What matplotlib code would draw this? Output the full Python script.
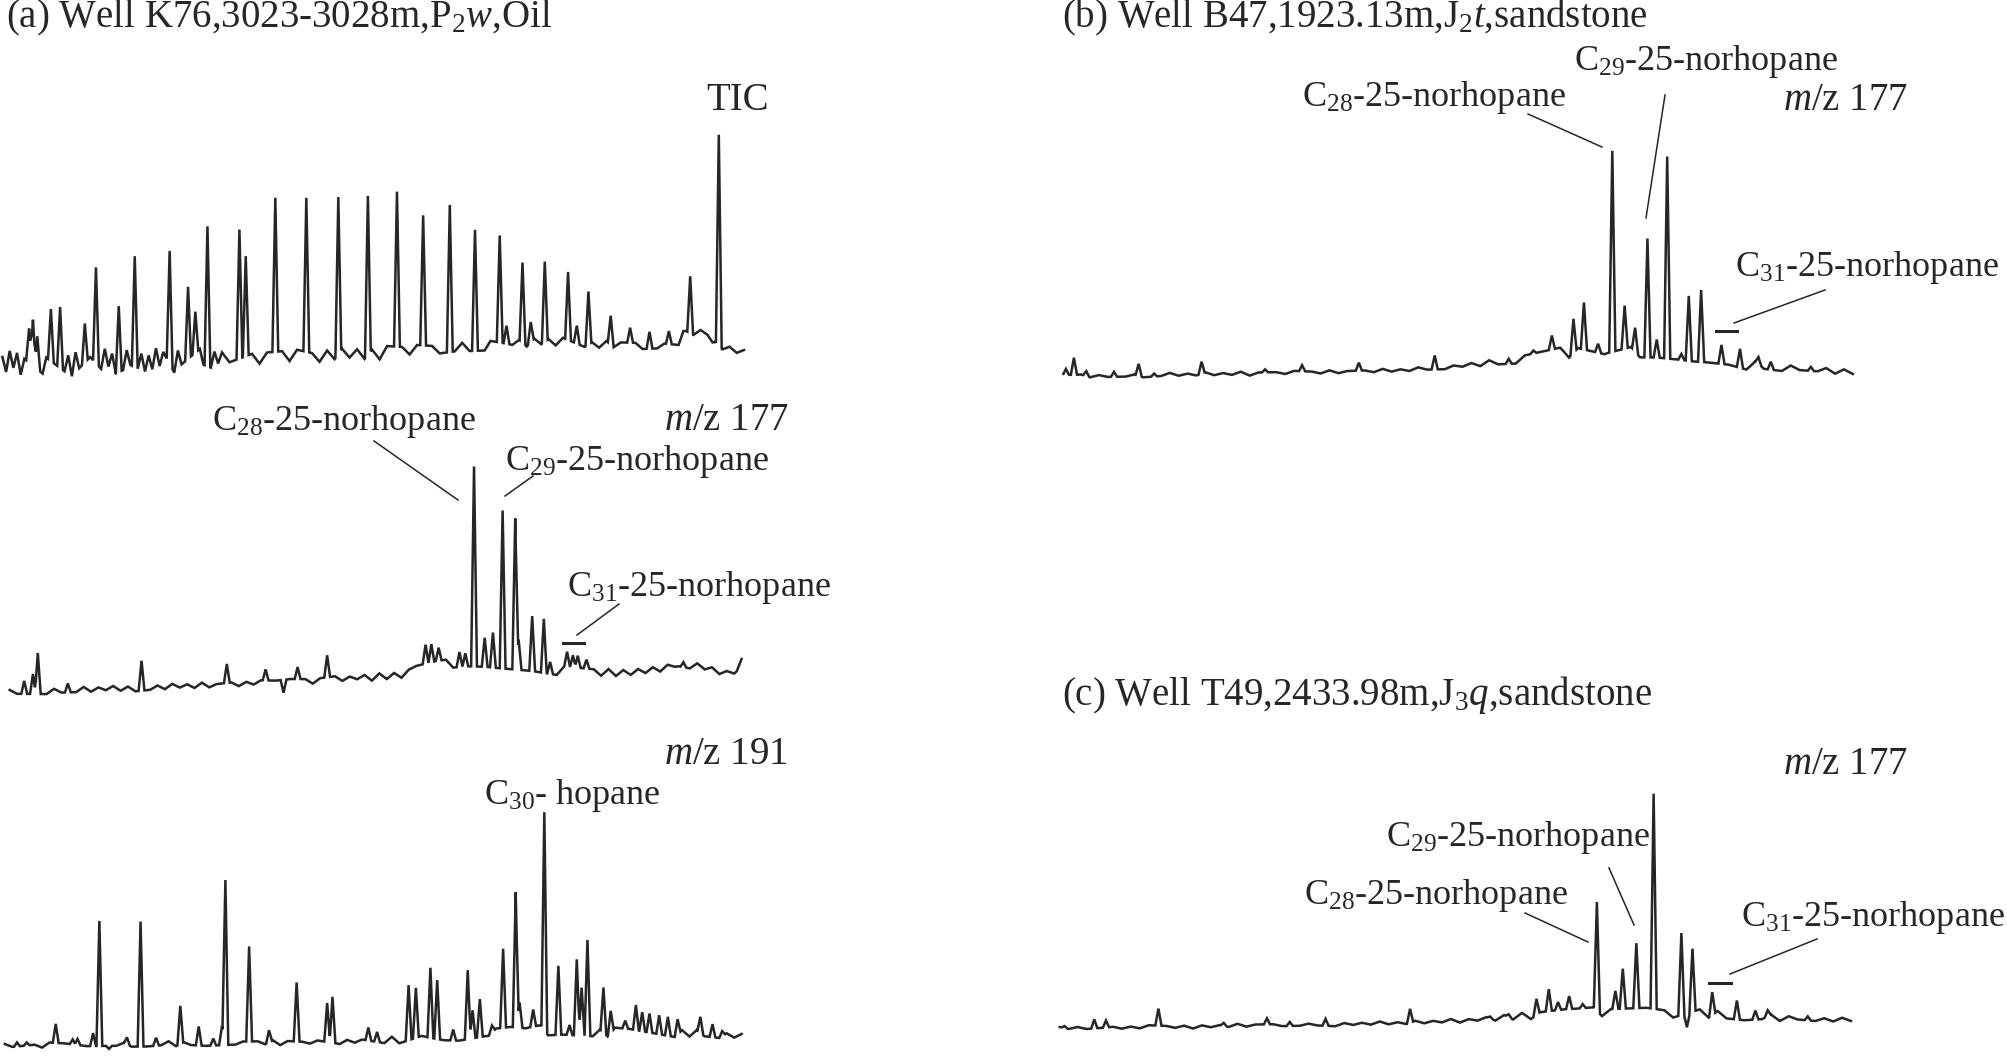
import numpy as np
import matplotlib
matplotlib.use('Agg')
import matplotlib.pyplot as plt
from matplotlib.lines import Line2D

plt.rcParams['font.family'] = 'Liberation Serif'
plt.rcParams['mathtext.fontset'] = 'custom'
plt.rcParams['mathtext.rm'] = 'Liberation Serif'
plt.rcParams['mathtext.it'] = 'Liberation Serif:italic'

W, H = 2007, 1058
INK = '#262626'
FS = 28      # titles, m/z, TIC
FS_PK = 26   # compound labels

# ---- (a) TIC, scan number vs abundance ----
tic_base_x = [5, 200, 400, 600, 800, 950, 1050, 1130, 1250, 1400, 1410, 1460, 1470, 1500, 1535]
tic_base_y = [17, 18, 21, 23, 27, 32, 37, 38, 35, 33, 47, 47, 37, 32, 27]
tic_pk_x = [60, 68, 77, 105, 124, 175, 198, 245, 278, 350, 388, 403, 428, 494, 507, 568, 632, 698, 759,
            819, 873, 928, 980, 1031, 1045, 1078, 1095, 1124, 1172, 1190, 1214, 1260, 1300, 1340, 1380, 1424, 1483]
tic_pk_h = [34, 46, 33, 52, 61, 39, 96, 66, 111, 113, 72, 41, 140, 129, 100, 154, 154, 157, 159,
            155, 130, 147, 121, 107, 18, 80, 20, 80, 68, 18, 53, 29, 15, 17, 13, 57, 211]
# noise given per stretch of scans: (first scan, last scan, values)
tic_noise = [
    (5, 450, [6, -9, 12, -5, 10, -12, 4, -8, 14, -6, 9, -11, 5, -13, 8, -4, 11, -9, 7, -14, 10, -6, 12, -8, 5, -10, 9, -7, 13, -5,
              8, -12, 6, -9, 11, -4, 10, -8, 7, -11, 5, -9, 12, -6, 8, -10, 6, -13, 9, -5, 11, -7, 4, -15, 10, -6, 8, -9, 7, -5]),
    (458, 1000, [6, -4, 7, -5, 4, -6, 5, -3, 6, -4, 7, -5, 3, -6, 5, -4, 6, -3, 5, -5, 4, -6, 7, -4, 5, -3, 6, -5, 4, -4, 6, -3, 5, -4, 3, -5]),
    (1012, 1535, [4, -3, 5, -2, 3, -4, 4, -2, 3, -3, 5, -2, 3, -3, 2, -3, 4, -2, 3, -2, 3, -3, 2, -2, 3, -2, 2,
                  2, -2, 3, -2, 2, -3, 2, -2, 3]),
]

# ---- (a) m/z 177 ----
a177_base_x = [20, 100, 300, 450, 600, 700, 800, 850, 900, 960, 1000, 1050, 1100, 1150, 1250, 1300, 1350, 1400, 1450, 1500, 1520, 1530]
a177_base_y = [18, 19, 22, 25, 28, 31, 33, 37, 43, 47, 47, 45, 43, 40, 37, 37, 40, 46, 43, 37, 39, 48]
a177_pk_x = [50, 68, 78, 140, 292, 468, 548, 614, 675, 878, 890, 905, 948, 960, 978, 1000, 1017, 1037, 1063, 1070,
             1098, 1122, 1135, 1170, 1182, 1192, 1210, 1410, 585]
a177_pk_h = [13, 20, 41, 9, 30, 19, 11, 12, 22, 19, 18, 13, 15, 13, 200, 29, 35, 158, 151, 30,
             55, 54, 12, 15, 12, 12, 9, 5, -13]
a177_noise = [(20, 1530, [2, -2, 3, -1, 2, -3, 2, -2, 1, -2, 3, -2, 2, -1, 3, -2, 2, -3, 1, -2, 2, -2, 3, -1, 2, -2, 3, -2, 1, -3,
                          2, -2, 2, -1, 3, -2, 2, -2, 3, -1, 2, -3, 2, -2, 3, -2, 2, -1, 3, -3, 4, -2, 3, -3, 4,
                          6, -4, 7, -5, 6, -3, 5, -6, 4, -5, 6, -4, 5, -3, 6, -4, 5, -4, 3, -5, 4, -3, 5, -4, 3, -3, 4, -3, 3, -2,
                          3, -2, 3, -3, 2, -2, 4, -3, 3, -2, 2, -3, 2, -2, 3])]

# ---- (a) m/z 191 ----
a191_base_x = [10, 200, 400, 600, 800, 900, 1000, 1100, 1200, 1300, 1400, 1530]
a191_base_y = [12, 13, 14, 15, 17, 20, 25, 27, 26, 25, 25, 22]
a191_pk_x = [35, 55, 115, 150, 160, 192, 205, 262, 290, 322, 372, 410, 440, 458, 465, 514, 555, 612, 675, 686,
             760, 778, 843, 858, 888, 902, 935, 965, 975, 990, 1015, 1038, 1064, 1072, 1100, 1123, 1152, 1175, 1190, 1200,
             1212, 1245, 1260, 1290, 1312, 1325, 1340, 1360, 1378, 1398, 1445, 1470, 1490, 225]
a191_pk_h = [4, 3, 19, 5, 6, 13, 125, 7, 125, 8, 38, 19, 7, 19, 165, 95, 12, 59, 39, 46,
             13, 10, 55, 50, 70, 59, 11, 69, 28, 38, 7, 79, 135, 25, 17, 218, 69, 10, 76, 48,
             96, 45, 22, 8, 25, 19, 19, 19, 19, 15, 16, 13, 5, -3]
a191_noise = [(10, 1530, [2, -1, 2, -2, 1, -2, 3, -1, 2, -2, 1, -1, 2, -2, 3, -1, 2, -2, 1, -2, 2, -1, 3, -2, 2, -1, 2, -2, 1, -2,
                          3, -1, 2, -2, 2, -1, 3, -2, 2, -2, 1, -1, 2, -2, 3, -2, 2, -1, 2, -2, 3, -2,
                          4, -3, 5, -4, 3, -5, 6, -3, 4, -5, 5, -4, 6, -3, 4, -6, 5, -4, 3, -5, 6, -4, 5, -3, 4, -5, 6, -4, 3, -4, 5, -3, 4,
                          4, -3, 5, -3, 4, -4, 3, -3, 4, -2, 3, -3, 2, -2, 2])]

# ---- (b) m/z 177 ----
b_base_x = [38, 100, 200, 300, 400, 500, 600, 700, 780, 850, 920, 1000, 1080, 1150, 1230, 1318]
b_base_y = [23, 24, 25, 26, 27, 28, 30, 35, 40, 47, 50, 48, 42, 35, 32, 28]
b_pk_x = [42, 55, 75, 120, 160, 185, 262, 365, 425, 517, 640, 760, 800, 830, 865, 882, 905, 928, 948, 965,
          985, 1000, 1017, 1040, 1052, 1072, 1105, 1135, 1165, 1185, 1250]
b_pk_h = [6, 17, 5, 5, 12, 3, 12, 3, 6, 8, 14, 5, 3, 14, 34, 47, 9, 201, 43, 24,
          119, 18, 202, 6, 65, 72, 19, 19, 7, 8, 4]
b_noise = [(38, 1318, [1, -1, 2, -1, 1, -1, 2, -1, 1, -2, 1, -1, 2, -1, 1, -1, 2, -1, 1, -1, 2, -2, 1, -1, 1, -1, 2, -1, 1, -1,
                       2, -1, 1, -2, 1, -1, 2, -1, 1, -1, 2, -1, 2, -2, 1, -1, 2, -2, 3, -2,
                       3, -3, 4, -3, 5, -4, 6, -5, 4, -6, 5, -4, 7, -5, 4, -6, 5, -4, 6, -5, 4, -5, 6, -4, 5, -3, 4, -5, 4, -3, 3, -4,
                       2, -2, 3, -2, 2, -3, 2, -2])]

# ---- (c) m/z 177 ----
c_base_x = [32, 100, 200, 300, 400, 500, 600, 700, 780, 850, 920, 1000, 1100, 1200, 1315]
c_base_y = [30, 30, 31, 32, 33, 34, 35, 38, 41, 45, 46, 45, 43, 40, 38]
c_pk_x = [40, 88, 107, 192, 298, 368, 405, 463, 600, 730, 760, 805, 825, 840, 858, 880, 903, 933, 945, 967,
          995, 1040, 1049, 1058, 1090, 1130, 1160, 1180, 1245]
c_pk_h = [2, 9, 7, 17, 3, 6, 4, 7, 14, 2, 3, 16, 22, 8, 13, 4, 109, 18, 40, 65,
          215, 82, -14, 63, 23, 19, 9, 6, 4]
c_noise = [(32, 1315, [1, -1, 1, -1, 2, -1, 1, -1, 1, -1, 2, -1, 1, -1, 1, -2, 1, -1, 1, -1, 2, -1, 1, -1, 1, -1, 2, -1, 1, -1,
                       1, -2, 1, -1, 1, -1, 2, -1, 1, -1, 2, -1, 1, -1, 2, -2, 1, -1, 2, -2,
                       3, -2, 4, -3, 3, -4, 5, -3, 4, -3, 5, -4, 3, -5, 4, -3, 5, -4, 3, -4, 4, -3, 5, -3, 4, -3, 3, -4, 3, -2, 3, -3,
                       2, -1, 2, -2, 1, -2, 2, -1])]


def build(base_x, base_y, noise, pk_x, pk_h, w):
    bx = np.asarray(base_x, float)
    by = np.asarray(base_y, float)
    px = np.asarray(pk_x, float)
    ph = np.asarray(pk_h, float)
    nx_ = np.concatenate([np.linspace(a, b, len(v)) for a, b, v in noise])
    nv = np.concatenate([np.asarray(v, float) for a, b, v in noise])
    keep = np.array([np.all(np.abs(px - v) > w) for v in nx_])
    nx_, nv = nx_[keep], nv[keep]
    xs = np.unique(np.concatenate([bx, nx_, px, px - w, px + w]))
    xs = xs[(xs >= bx[0]) & (xs <= bx[-1])]
    ys = np.interp(xs, bx, by) + np.interp(xs, nx_, nv)
    for p, h in zip(px, ph):
        ys += h * np.clip(1 - np.abs(xs - p) / w, 0, None)
    return xs, ys


fig = plt.figure(figsize=(W / 100, H / 100), dpi=100)


def panel_ax(x0, y0, w, h):
    ax = fig.add_axes([x0 / W, 1 - (y0 + h) / H, w / W, h / H])
    ax.set_xlim(0, 1568)
    ax.set_ylim(0, h)
    ax.axis('off')
    return ax


traces = [
    ((0, 0, 760, 380), tic_base_x, tic_base_y, tic_noise, tic_pk_x, tic_pk_h, 6),
    ((0, 380, 760, 330), a177_base_x, a177_base_y, a177_noise, a177_pk_x, a177_pk_h, 6),
    ((0, 720, 760, 338), a191_base_x, a191_base_y, a191_noise, a191_pk_x, a191_pk_h, 6),
    ((1040, 0, 967, 400), b_base_x, b_base_y, b_noise, b_pk_x, b_pk_h, 5),
    ((1040, 660, 967, 398), c_base_x, c_base_y, c_noise, c_pk_x, c_pk_h, 5),
]
for box, bx, by, nz, px, ph, w in traces:
    ax = panel_ax(*box)
    xs, ys = build(bx, by, nz, px, ph, w)
    ax.plot(xs, ys, color=INK, lw=1.8, solid_joinstyle='miter', clip_on=False)


def label(x, y, s, size=FS):
    fig.text(x / W, 1 - y / H, s, fontsize=size, color=INK, ha='left', va='center')


def leader(x1, y1, x2, y2, lw=1.1):
    fig.add_artist(Line2D([x1 / W, x2 / W], [1 - y1 / H, 1 - y2 / H], color=INK, lw=lw))


C28 = r'C$_\mathrm{28}$-25-norhopane'
C29 = r'C$_\mathrm{29}$-25-norhopane'
C31 = r'C$_\mathrm{31}$-25-norhopane'
MZ177 = r'$\mathit{m}$/z 177'

# panel (a)
label(6, 18, r'(a) Well K76,3023-3028m,P$_\mathrm{2}$$\mathit{w}$,Oil')
label(706, 100, 'TIC')
label(664, 421, MZ177)
label(212, 422, C28, FS_PK)
label(505, 461, C29, FS_PK)
label(567, 588, C31, FS_PK)
label(664, 755, r'$\mathit{m}$/z 191')
label(484, 795, r'C$_\mathrm{30}$- hopane', FS_PK)
leader(374, 441, 458, 500)
leader(533, 476, 505, 496)
leader(619, 604, 577, 635)
leader(563, 643, 584, 643, lw=2.2)

# panel (b)
label(1062, 17, r'(b) Well B47,1923.13m,J$_\mathrm{2}$$\mathit{t}$,sandstone')
label(1302, 97, C28, FS_PK)
label(1574, 62, C29, FS_PK)
label(1783, 101, MZ177)
label(1735, 268, C31, FS_PK)
leader(1528, 114, 1602, 147)
leader(1665, 95, 1646, 218)
leader(1825, 290, 1734, 323)
leader(1716, 331, 1737, 331, lw=2.2)

# panel (c)
label(1062, 695, r'(c) Well T49,2433.98m,J$_\mathrm{3}$$\mathit{q}$,sandstone')
label(1783, 764, MZ177)
label(1386, 838, C29, FS_PK)
label(1304, 895, C28, FS_PK)
label(1741, 918, C31, FS_PK)
leader(1525, 913, 1588, 942)
leader(1609, 868, 1634, 925)
leader(1817, 939, 1730, 974)
leader(1709, 983, 1731, 983, lw=2.2)

fig.savefig('out.png', dpi=100, facecolor='white')
